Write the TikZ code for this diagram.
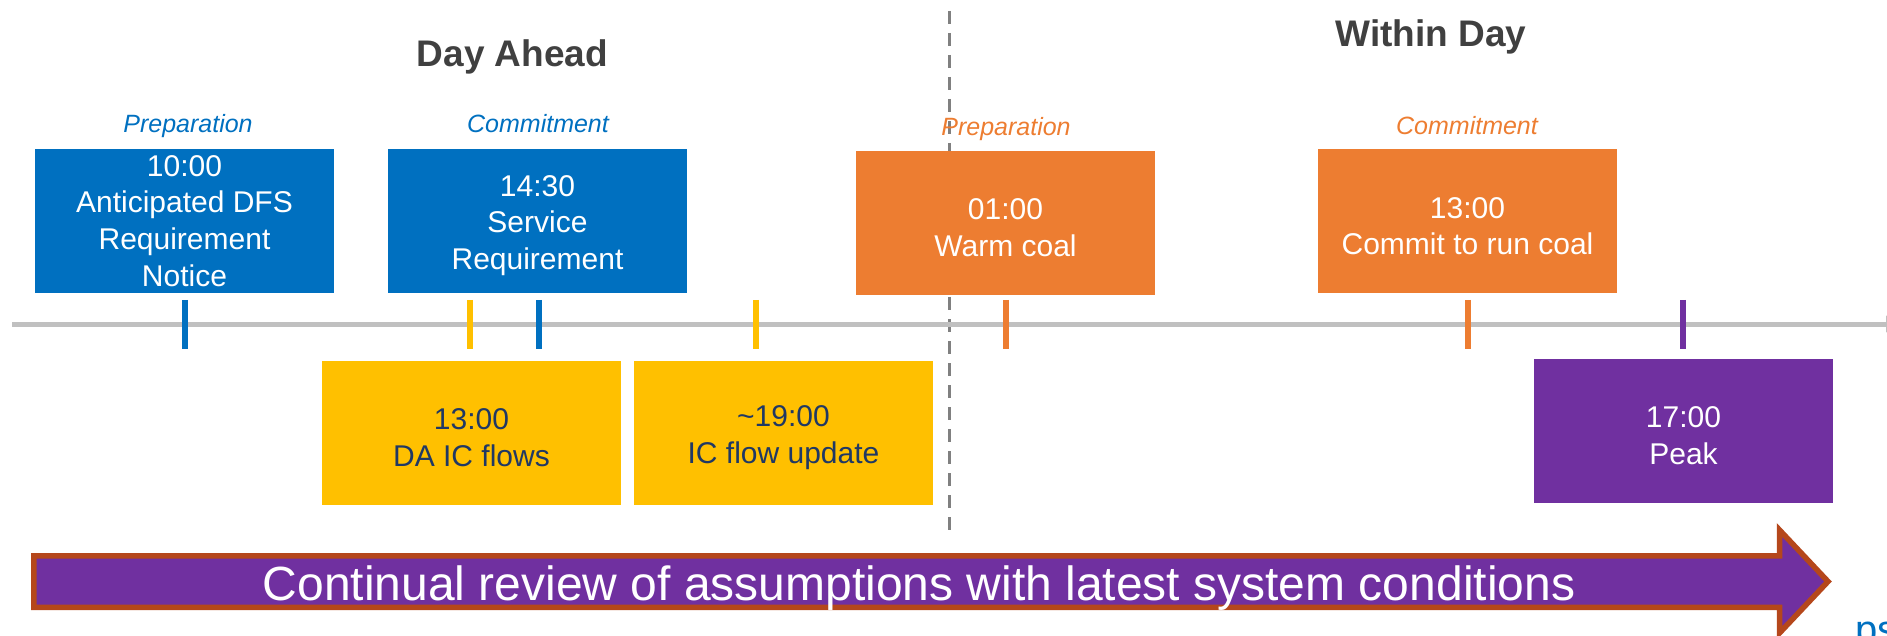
\documentclass[tikz,border=0pt]{standalone}
\usepackage{fontspec}
\setmainfont{Liberation Sans}
\usetikzlibrary{arrows.meta}
\definecolor{dfsblue}{HTML}{0070C0}
\definecolor{dfsorange}{HTML}{ED7D31}
\definecolor{dfsyellow}{HTML}{FFC000}
\definecolor{dfspurple}{HTML}{7030A0}
\definecolor{dfsnavy}{HTML}{203864}
\definecolor{titlegrey}{HTML}{404040}
\definecolor{axisgrey}{HTML}{C0C0C0}
\definecolor{dashgrey}{HTML}{808080}
\definecolor{arrowrim}{HTML}{B5471B}
\newcommand{\topstrut}{\rule{0pt}{30pt}}
\begin{document}
\begin{tikzpicture}[x=1pt,y=-1pt,
  evbox/.style={rectangle, inner sep=0pt, minimum width=299pt, minimum height=144pt,
    align=center, font=\fontsize{30}{36.7}\selectfont, text=white},
  phase/.style={inner sep=0pt, anchor=base, font=\fontsize{25}{30}\selectfont\itshape},
  title/.style={inner sep=0pt, anchor=base, text=titlegrey, font=\fontsize{37}{44}\selectfont\bfseries},
  tickmark/.style={line width=6pt},
]
\useasboundingbox (0,0) rectangle (1887,636);
\begin{scope}
\clip (0,0) rectangle (1887,636);

% dashed divider
\coordinate (divtop) at (949,11);
\coordinate (divbot) at (949,534);
\draw[dashgrey, line width=3pt, dash pattern=on 13pt off 9pt] (divtop) -- (divbot);

% axis
\coordinate (axisstart) at (12,324);
\coordinate (axisend) at (1900,324);
\draw[axisgrey, line width=5pt, -{Triangle[length=14pt,width=16pt]}] (axisstart) -- (axisend);

% titles
\node[title] (dayahead) at (512.5,66.5) {Day Ahead};
\node[title] (withinday) at (1431,46.5) {Within Day};

% phase labels
\node[phase, text=dfsblue] (prep1) at (188,133) {Preparation};
\node[phase, text=dfsblue] (comm1) at (538,133) {Commitment};
\node[phase, text=dfsorange] (prep2) at (1006,136) {Preparation};
\node[phase, text=dfsorange] (comm2) at (1467,135) {Commitment};

% boxes
\node[evbox, fill=dfsblue] (b1) at (184.5,221) {10:00\\Anticipated DFS\\Requirement\\Notice};
\node[evbox, fill=dfsblue] (b2) at (537.5,221) {\topstrut14:30\\Service\\Requirement};
\node[evbox, fill=dfsorange] (o1) at (1005.5,223) {\topstrut01:00\\Warm coal};
\node[evbox, fill=dfsorange] (o2) at (1467.5,221.5) {\topstrut13:00\\Commit to run coal};
\node[evbox, fill=dfsyellow, text=dfsnavy] (y1) at (471.5,433) {\topstrut13:00\\DA IC flows};
\node[evbox, fill=dfsyellow, text=dfsnavy] (y2) at (783.5,433) {\topstrut\textasciitilde19:00\\IC flow update};
\node[evbox, fill=dfspurple] (p1) at (1683.5,431) {\topstrut17:00\\Peak};

% ticks
\draw[tickmark, dfsblue] (185,300) -- (185,349);
\draw[tickmark, dfsyellow] (470,300) -- (470,349);
\draw[tickmark, dfsblue] (539,300) -- (539,349);
\draw[tickmark, dfsyellow] (756,300) -- (756,349);
\draw[tickmark, dfsorange] (1006,300) -- (1006,349);
\draw[tickmark, dfsorange] (1468,300) -- (1468,349);
\draw[tickmark, dfspurple] (1683,300) -- (1683,349);

% big arrow
\draw[line width=5.5pt, draw=arrowrim, fill=dfspurple, line join=miter]
  (33.75,555.75) -- (1779.5,555.75) -- (1779.5,530) -- (1828,581.5)
  -- (1779.5,633) -- (1779.5,607.25) -- (33.75,607.25) -- cycle;
\node[inner sep=0pt, anchor=base west, text=white, font=\fontsize{48}{56}\selectfont]
  (review) at (262.5,600) {Continual review of assumptions with latest system conditions};

% cut-off text at the corner
\node[inner sep=0pt, anchor=base west, text=dfsblue, font=\fontsize{40}{48}\selectfont]
  (corner) at (1855,643) {ps};
\end{scope}
\end{tikzpicture}
\end{document}
